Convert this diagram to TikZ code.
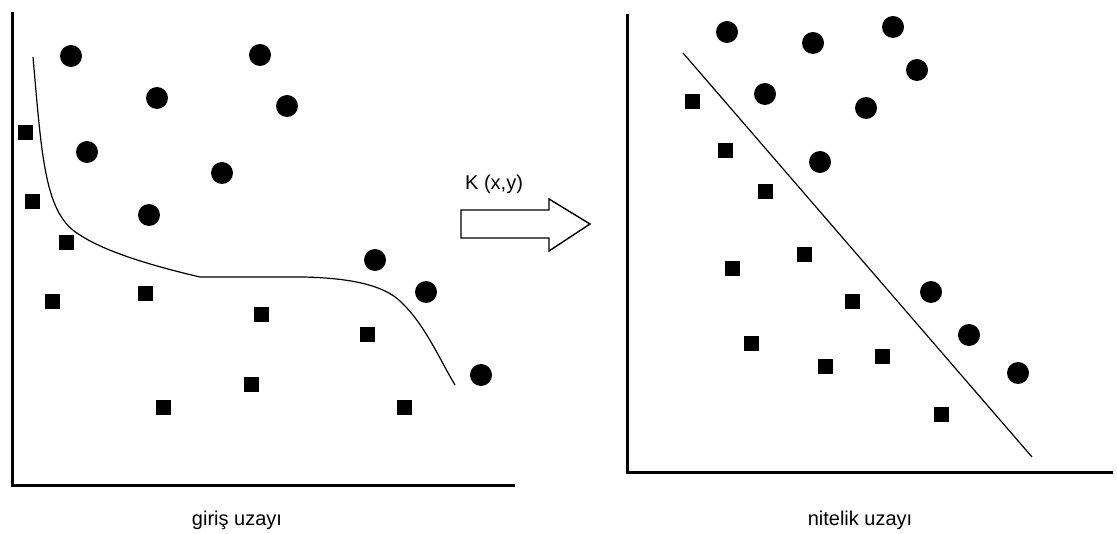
\documentclass[tikz,border=0pt]{standalone}
\usepackage{fontspec}
\setmainfont{Liberation Sans}
\usetikzlibrary{positioning}
\begin{document}
\begin{tikzpicture}[x=1pt,y=-1pt,font=\fontsize{20}{24}\selectfont,
  dot/.style={circle,fill=black,inner sep=0pt,minimum size=22pt},
  sq/.style={rectangle,fill=black,inner sep=0pt,minimum size=15pt},
  axis/.style={line width=3pt},
  split/.style={line width=1.2pt}]
\useasboundingbox (0,0) rectangle (1117,534);
% giris uzayi
\draw[axis] (12,12) -- (12,486) -- (515,486);
\foreach \n/\x/\y in {1/71/56,2/260/55,3/157/98,4/287/106,5/87/152,6/222/173,7/149/215,8/375/260,9/426/292,10/481/375}
  \node[dot] (a\n) at (\x,\y) {};
\foreach \n/\x/\y in {1/25/133,2/32/202,3/66/243,4/52/302,5/145/294,6/261/315,7/367/335,8/251/385,9/163/408,10/404/408}
  \node[sq] (b\n) at (\x,\y) {};
\draw[split] (33,57) .. controls (42,160) and (45,215) .. (80,235)
  .. controls (110,255) and (170,270) .. (200,277) -- (303,277)
  .. controls (350,278) and (385,285) .. (402,303)
  .. controls (425,325) and (440,360) .. (455,385);
\node (lin) at (237,520) {giriş uzayı};
% K(x,y)
\coordinate (k) at (461,224);
\draw[line width=1.4pt] (461,210) -- (549,210) -- (549,199) -- (590,224) -- (549,251) -- (549,238) -- (461,238) -- cycle;
\node[anchor=south west,inner sep=0pt] (klab) at (465,194) {K (x,y)};
% nitelik uzayi
\draw[axis] (627,14) -- (627,473) -- (1113,473);
\foreach \n/\x/\y in {1/727/32,2/813/43,3/893/27,4/917/70,5/765/94,6/866/108,7/820/162,8/931/292,9/969/335,10/1018/373}
  \node[dot] (c\n) at (\x,\y) {};
\foreach \n/\x/\y in {1/692/102,2/725/151,3/765/192,4/804/255,5/732/269,6/852/302,7/751/344,8/825/367,9/882/357,10/941/415}
  \node[sq] (d\n) at (\x,\y) {};
\draw[split] (683,53) -- (1032,457);
\node (rin) at (860,520) {nitelik uzayı};
\end{tikzpicture}
\end{document}
